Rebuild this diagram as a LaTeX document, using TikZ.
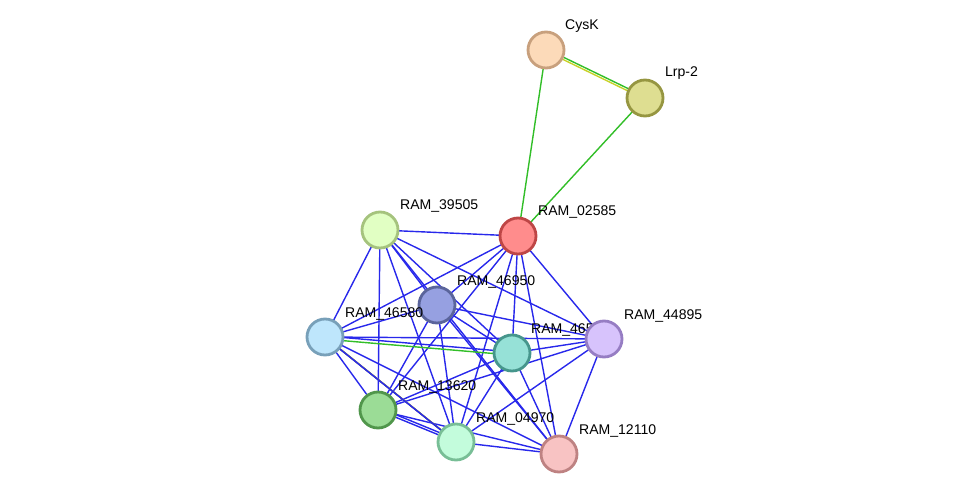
\documentclass[tikz,border=0pt]{standalone}
\usepackage{fontspec}
\setmainfont{Liberation Sans}
\usetikzlibrary{positioning}
\tikzset{
  prot/.style={circle,draw,line width=1.6pt,minimum size=0.72cm,inner sep=0pt},
  lbl/.style={font=\fontsize{8}{9}\selectfont,inner sep=1pt,anchor=south west},
  blu/.style={draw={rgb,255:red,40;green,40;blue,235},line width=0.8pt},
  grn/.style={draw={rgb,255:red,50;green,190;blue,40},line width=0.8pt},
  yel/.style={draw={rgb,255:red,200;green,210;blue,40},line width=0.8pt},
  blk/.style={draw=black!75,line width=0.8pt}
}
\begin{document}
\begin{tikzpicture}[x=0.02cm,y=-0.02cm]
        \useasboundingbox (0,0) rectangle (976,500);

        \coordinate (CysK) at (546,50);
        \coordinate (Lrp) at (645,98);
        \coordinate (a02585) at (518,236);
        \coordinate (a39505) at (380,230);
        \coordinate (a46950) at (437,305);
        \coordinate (a46580) at (325,337);
        \coordinate (a46590) at (512,353);
        \coordinate (a44895) at (604,339);
        \coordinate (a13620) at (378,410);
        \coordinate (a04970) at (456,442);
        \coordinate (a12110) at (559,454);

        % coloured edges
        \draw[grn] ([yshift=0.7pt]CysK) -- ([yshift=0.7pt]Lrp);
        \draw[yel] ([yshift=-0.7pt]CysK) -- ([yshift=-0.7pt]Lrp);
        \draw[grn] (CysK) -- (a02585);
        \draw[grn] (Lrp) -- (a02585);

        % cluster, blue
        \foreach \a/\b in {a02585/a39505,a02585/a46950,a02585/a46580,a02585/a46590,
          a02585/a44895,a02585/a13620,a02585/a04970,a02585/a12110,
          a39505/a46950,a39505/a46580,a39505/a46590,a39505/a44895,a39505/a13620,
          a39505/a04970,a39505/a12110,
          a46950/a46580,a46950/a46590,a46950/a44895,a46950/a13620,a46950/a04970,
          a46950/a12110,
          a46580/a44895,a46580/a13620,a46580/a12110,
          a46590/a44895,a46590/a13620,a46590/a04970,a46590/a12110,
          a44895/a13620,a44895/a04970,a44895/a12110,
          a13620/a04970,a13620/a12110,a04970/a12110}
          \draw[blu] (\a) -- (\b);
        \draw[grn] ([yshift=-1.2pt]a46580) -- ([yshift=-1.2pt]a46590);
        \draw[blu] ([yshift=0.6pt]a46580) -- ([yshift=0.6pt]a46590);
        \draw[yel] ([xshift=1.6pt,yshift=-1.2pt]a46580) -- ([xshift=1.6pt,yshift=-1.2pt]a04970);
        \draw[blk] ([xshift=0.5pt,yshift=-0.4pt]a46580) -- ([xshift=0.5pt,yshift=-0.4pt]a04970);
        \draw[draw=black!45,line width=0.8pt] ([xshift=-0.5pt,yshift=0.4pt]a46580) -- ([xshift=-0.5pt,yshift=0.4pt]a04970);
        \draw[blu] ([xshift=-1.6pt,yshift=1.2pt]a46580) -- ([xshift=-1.6pt,yshift=1.2pt]a04970);
        \draw[blu] ([yshift=1.5pt]a13620) -- ([yshift=1.5pt]a04970);

        % proteins
        \node[prot,draw={rgb,255:red,200;green,160;blue,125},fill={rgb,255:red,252;green,218;blue,185}] (nCysK) at (CysK) {};
        \node[prot,draw={rgb,255:red,150;green,150;blue,65},fill={rgb,255:red,222;green,222;blue,145}] (nLrp) at (Lrp) {};
        \node[prot,draw={rgb,255:red,190;green,70;blue,70},fill={rgb,255:red,255;green,140;blue,140}] (n02585) at (a02585) {};
        \node[prot,draw={rgb,255:red,165;green,195;blue,125},fill={rgb,255:red,225;green,255;blue,195}] (n39505) at (a39505) {};
        \node[prot,draw={rgb,255:red,90;green,100;blue,155},fill={rgb,255:red,150;green,160;blue,225}] (n46950) at (a46950) {};
        \node[prot,draw={rgb,255:red,120;green,160;blue,185},fill={rgb,255:red,190;green,230;blue,252}] (n46580) at (a46580) {};
        \node[prot,draw={rgb,255:red,70;green,150;blue,140},fill={rgb,255:red,150;green,225;blue,215}] (n46590) at (a46590) {};
        \node[prot,draw={rgb,255:red,80;green,150;blue,75},fill={rgb,255:red,155;green,220;blue,150}] (n13620) at (a13620) {};
        \node[prot,draw={rgb,255:red,120;green,190;blue,150},fill={rgb,255:red,195;green,252;blue,220}] (n04970) at (a04970) {};
        \node[prot,draw={rgb,255:red,190;green,130;blue,130},fill={rgb,255:red,248;green,195;blue,195}] (n12110) at (a12110) {};

        % labels
        \node[lbl] at (563,35) {CysK};
        \node[lbl] at (663,82) {Lrp-2};
        \node[lbl] at (536,220) {RAM\_02585};
        \node[lbl] at (398,214) {RAM\_39505};
        \node[lbl] at (455,290) {RAM\_46950};
        \node[lbl] at (343,322) {RAM\_46580};
        \node[lbl] at (529,338) {RAM\_46590};
        \node[lbl] at (622,324) {RAM\_44895};
        \node[lbl] at (396,395) {RAM\_13620};
        \node[lbl] at (474,427) {RAM\_04970};
        \node[lbl] at (577,439) {RAM\_12110};

        \node[prot,draw={rgb,255:red,150;green,125;blue,195},fill={rgb,255:red,215;green,195;blue,252}] (n44895) at (a44895) {};
\end{tikzpicture}
\end{document}
